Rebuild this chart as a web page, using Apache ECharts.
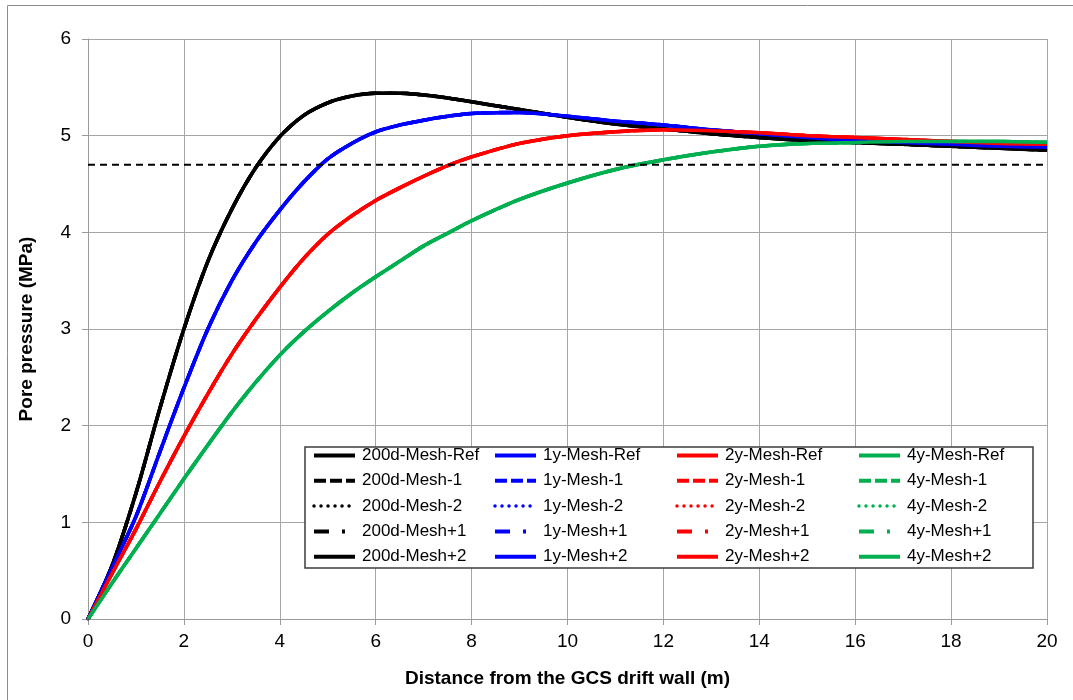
<!DOCTYPE html>
<html>
<head>
<meta charset="utf-8">
<script src="https://cdn.jsdelivr.net/npm/echarts@6/dist/echarts.min.js"></script>
<style>
  html, body { margin: 0; padding: 0; background: #fff; }
  #chart { width: 1073px; height: 700px; }
</style>
</head>
<body>
<div id="chart"></div>
<script>
// distance from drift wall (m)
var distance = [0, 0.5, 1, 1.5, 2, 2.5, 3, 3.5, 4, 4.5, 5, 5.5, 6, 6.5, 7, 7.5, 8, 9, 10, 11, 12, 13, 14, 15, 16, 17, 18, 19, 20];

// pore pressure (MPa) per time
var p200d = [0, 0.55, 1.3, 2.18, 3.0, 3.7, 4.24, 4.67, 4.99, 5.21, 5.34, 5.41, 5.44, 5.44, 5.42, 5.39, 5.35, 5.27, 5.19, 5.12, 5.07, 5.02, 4.98, 4.95, 4.93, 4.91, 4.89, 4.87, 4.85];
var p1y   = [0, 0.53, 1.06, 1.73, 2.39, 3.0, 3.5, 3.9, 4.23, 4.52, 4.76, 4.92, 5.04, 5.11, 5.16, 5.2, 5.23, 5.24, 5.2, 5.15, 5.11, 5.06, 5.02, 4.98, 4.95, 4.93, 4.91, 4.89, 4.88];
var p2y   = [0, 0.47, 0.93, 1.42, 1.89, 2.33, 2.74, 3.1, 3.43, 3.73, 3.98, 4.17, 4.33, 4.46, 4.58, 4.69, 4.78, 4.92, 5.0, 5.04, 5.06, 5.05, 5.03, 5.0, 4.98, 4.96, 4.94, 4.92, 4.91];
var p4y   = [0, 0.37, 0.73, 1.09, 1.45, 1.8, 2.14, 2.45, 2.73, 2.97, 3.18, 3.37, 3.54, 3.7, 3.86, 3.99, 4.12, 4.34, 4.51, 4.65, 4.75, 4.83, 4.89, 4.92, 4.93, 4.94, 4.94, 4.94, 4.93];

// reference level line
var refX = [0, 20];
var refY = [4.7, 4.7];

var times = ['200d', '1y', '2y', '4y'];
var meshes = ['Mesh-Ref', 'Mesh-1', 'Mesh-2', 'Mesh+1', 'Mesh+2'];
var yTicks = [0, 1, 2, 3, 4, 5, 6];
var xTicks = [0, 2, 4, 6, 8, 10, 12, 14, 16, 18, 20];

var values = [p200d, p1y, p2y, p4y];
var colors = ['#000000', '#0000ff', '#ff0000', '#00b050'];
var styles = {
    'Mesh-Ref': { type: 'solid', width: 3.5 },
    'Mesh-1': { type: [12, 4], width: 3.5 },
    'Mesh-2': { type: [0.01, 7], width: 3, cap: 'round' },
    'Mesh+1': { type: [15, 13, 3, 13], width: 3.5 },
    'Mesh+2': { type: 'solid', width: 3.5 }
};

function pairs(xs, ys) {
    return xs.map(function (x, i) { return [x, ys[i]]; });
}

var series = [];
meshes.forEach(function (m) {
    times.forEach(function (t, i) {
        var st = styles[m];
        series.push({
            name: t + '-' + m,
            type: 'line',
            data: pairs(distance, values[i]),
            smooth: 0.3,
            symbol: 'none',
            showSymbol: false,
            color: colors[i],
            lineStyle: { color: colors[i], width: st.width, type: st.type, cap: st.cap || 'butt' }
        });
    });
});
series.push({
    name: 'level',
    type: 'line',
    data: pairs(refX, refY),
    symbol: 'none',
    silent: true,
    lineStyle: { color: '#000', width: 2, type: [7, 5] }
});

var legendLeft = [312, 493, 675, 857];
var legends = times.map(function (t, i) {
    return {
        orient: 'vertical',
        left: legendLeft[i],
        top: 447,
        padding: 0,
        itemWidth: 41,
        itemHeight: 14,
        itemGap: 8.3,
        itemStyle: { opacity: 0 },
        data: meshes.map(function (m) {
            var st = styles[m];
            return {
                name: t + '-' + m,
                lineStyle: { width: m === 'Mesh-2' ? 3.5 : 4, type: st.type, cap: st.cap || 'butt' }
            };
        }),
        textStyle: { fontFamily: '"Liberation Sans", Arial, sans-serif', fontSize: 17, color: '#000', padding: [0, 0, 0, 2] },
        selectedMode: false
    };
});

var chart = echarts.init(document.getElementById('chart'));
var option = {
    animation: false,
    backgroundColor: '#fff',
    textStyle: { fontFamily: '"Liberation Sans", Arial, sans-serif' },
    grid: { left: 88, right: 26, top: 39, bottom: 81 },
    legend: legends,
    graphic: [
        { type: 'rect', shape: { x: 7.5, y: 5.5, width: 1200, height: 900 }, style: { fill: 'none', stroke: '#8c8c8c', lineWidth: 1 }, z: 0 },
        { type: 'rect', shape: { x: 305, y: 447, width: 728, height: 121 }, style: { fill: '#fff', stroke: '#3c3c3c', lineWidth: 1.5 }, z: 3 }
    ],
    xAxis: {
        type: 'value',
        min: xTicks[0],
        max: xTicks[xTicks.length - 1],
        interval: 2,
        name: 'Distance from the GCS drift wall (m)',
        nameLocation: 'middle',
        nameGap: 50,
        nameTextStyle: { fontSize: 19, fontWeight: 'bold', color: '#000' },
        axisLine: { show: true, lineStyle: { color: '#9a9a9a', width: 1 } },
        axisTick: { show: true, inside: false, length: 6, lineStyle: { color: '#9a9a9a' } },
        axisLabel: { fontSize: 19, color: '#000', margin: 13 },
        splitLine: { show: true, lineStyle: { color: '#a6a6a6', width: 1 } }
    },
    yAxis: {
        type: 'value',
        min: yTicks[0],
        max: yTicks[yTicks.length - 1],
        interval: 1,
        name: 'Pore pressure (MPa)',
        nameLocation: 'middle',
        nameGap: 52,
        nameRotate: 90,
        nameTextStyle: { fontSize: 19, fontWeight: 'bold', color: '#000' },
        axisLine: { show: true, lineStyle: { color: '#9a9a9a', width: 1 } },
        axisTick: { show: true, inside: false, length: 6, lineStyle: { color: '#9a9a9a' } },
        axisLabel: { fontSize: 19, color: '#000', margin: 17 },
        splitLine: { show: true, lineStyle: { color: '#a6a6a6', width: 1 } }
    },
    series: series
};
chart.setOption(option);
</script>
</body>
</html>
